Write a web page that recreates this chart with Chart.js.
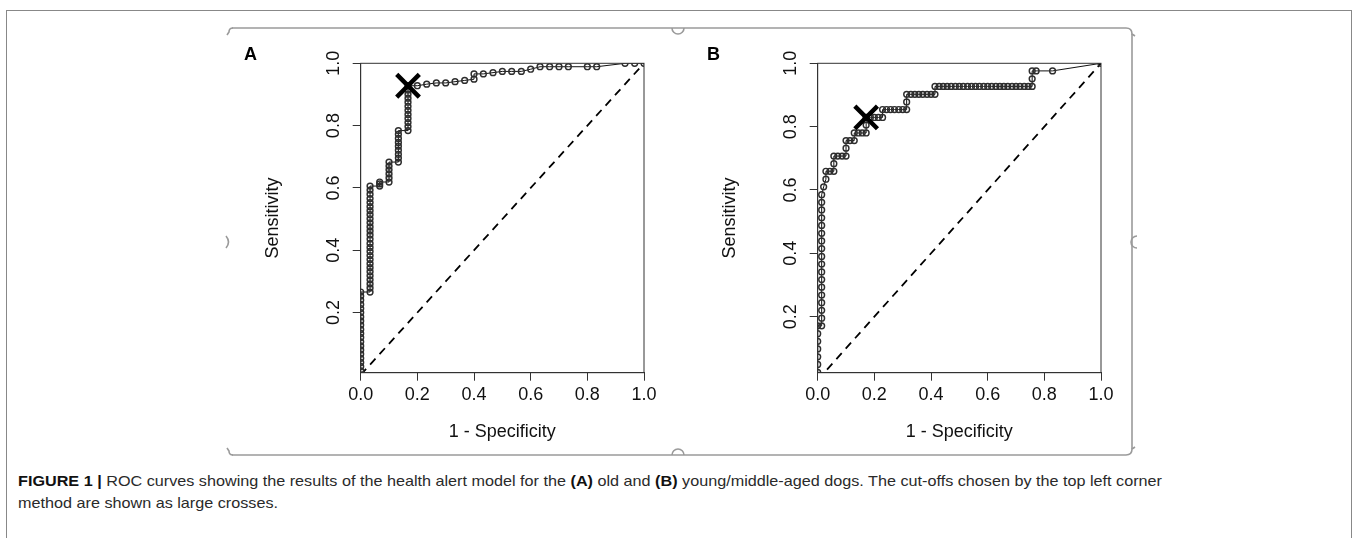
<!DOCTYPE html>
<html>
<head>
<meta charset="utf-8">
<script src="https://cdn.jsdelivr.net/npm/chart.js@4.4.0/dist/chart.umd.min.js"></script>
<style>
  body { margin: 0; width: 1358px; height: 538px; background: #fff; overflow: hidden; position: relative; font-family: "Liberation Sans", Arial, sans-serif; }
  #page { position: absolute; left: 6px; top: 10px; width: 1346px; height: 600px; border: 1px solid #888; box-sizing: border-box; }
  canvas { position: absolute; }
  .panel { position: absolute; font-weight: bold; font-size: 18px; color: #000; }
  #caption { position: absolute; left: 18px; top: 470px; font-size: 15px; line-height: 22px; color: #2a2a2a; white-space: nowrap; transform-origin: 0 0; }
  #caption b { color: #111; }
</style>
</head>
<body>
<div id="page"></div>
<svg width="1358" height="538" style="position:absolute;left:0;top:0">
  <g stroke="#9a9a9a" stroke-width="1.6" fill="none">
    <path d="M232 28 H1126" />
    <path d="M232 455 H1126" />
    <path d="M1132 34 V449" />
    <path d="M233 28 Q229 28 229 32 L227 35" />
    <path d="M233 455 Q229 455 229 451 L227 448" />
    <path d="M226 236 Q231 242 226 248" />
    <path d="M672 28 A6 6 0 0 0 684 28" />
    <path d="M672 455 A6 6 0 0 1 684 455" />
    <path d="M1126 28 Q1132 28 1132 34 L1135 36" />
    <path d="M1126 455 Q1132 455 1132 449 L1135 447" />
    <path d="M1137 236 A6 6 0 0 0 1137 248" />
  </g>
</svg>
<canvas id="chartA" width="440" height="430" style="left:230px;top:30px"></canvas>
<canvas id="chartB" width="440" height="430" style="left:686.6px;top:30px"></canvas>
<div class="panel" style="left:244px;top:44px">A</div>
<div class="panel" style="left:707px;top:44px">B</div>
<div id="caption"><span id="cap1"><b>FIGURE 1 |</b> ROC curves showing the results of the health alert model for the <b>(A)</b> old and <b>(B)</b> young/middle-aged dogs. The cut-offs chosen by the top left corner</span><br><span>method are shown as large crosses.</span></div>
<script>
// axes
const xTicks = [0, 0.2, 0.4, 0.6, 0.8, 1.0];
const yTicks = [0.2, 0.4, 0.6, 0.8, 1.0];
const diagonal = [[0, 0], [1, 1]];

// cut-offs (top left corner method)
const cutoffA = [0.167, 0.928];
const cutoffB = [0.171, 0.829];

// ROC points A (old dogs): [1 - specificity, sensitivity]
const rocA = [
  [0, 0], [0, 0.013], [0, 0.027], [0, 0.04], [0, 0.053], [0, 0.067], [0, 0.08], [0, 0.093], [0, 0.106], [0, 0.12], [0, 0.133],
  [0, 0.146], [0, 0.16], [0, 0.173], [0, 0.186], [0, 0.2], [0, 0.213], [0, 0.226], [0, 0.24], [0, 0.253], [0, 0.266],
  [0.033, 0.266], [0.033, 0.279], [0.033, 0.292], [0.033, 0.305], [0.033, 0.318], [0.033, 0.331], [0.033, 0.344], [0.033, 0.357],
  [0.033, 0.37], [0.033, 0.383], [0.033, 0.396], [0.033, 0.409], [0.033, 0.422], [0.033, 0.436], [0.033, 0.449], [0.033, 0.462],
  [0.033, 0.475], [0.033, 0.488], [0.033, 0.501], [0.033, 0.514], [0.033, 0.527], [0.033, 0.54], [0.033, 0.553], [0.033, 0.566],
  [0.033, 0.58], [0.033, 0.593], [0.033, 0.606],
  [0.067, 0.606], [0.067, 0.613], [0.067, 0.619],
  [0.1, 0.619], [0.1, 0.632], [0.1, 0.645], [0.1, 0.658], [0.1, 0.67], [0.1, 0.683],
  [0.133, 0.683], [0.133, 0.696], [0.133, 0.708], [0.133, 0.721], [0.133, 0.734], [0.133, 0.746], [0.133, 0.759], [0.133, 0.772], [0.133, 0.784],
  [0.167, 0.784], [0.167, 0.797], [0.167, 0.81], [0.167, 0.823], [0.167, 0.836], [0.167, 0.849], [0.167, 0.862], [0.167, 0.875],
  [0.167, 0.888], [0.167, 0.901], [0.167, 0.914], [0.167, 0.928],
  [0.2, 0.928], [0.233, 0.933], [0.267, 0.937], [0.3, 0.937], [0.333, 0.941], [0.367, 0.945], [0.4, 0.949], [0.4, 0.966],
  [0.433, 0.966], [0.467, 0.97], [0.5, 0.974], [0.533, 0.974], [0.567, 0.974], [0.6, 0.981], [0.633, 0.989], [0.667, 0.989],
  [0.7, 0.989], [0.733, 0.989], [0.8, 0.989], [0.833, 0.989], [0.933, 1], [0.967, 1], [1, 1]
];

// ROC points B (young/middle-aged dogs)
const rocB = [
  [0, 0], [0, 0.024], [0, 0.049], [0, 0.073], [0, 0.098], [0, 0.122], [0, 0.146], [0, 0.171],
  [0.014, 0.171], [0.014, 0.195], [0.014, 0.22], [0.014, 0.244], [0.014, 0.268], [0.014, 0.293], [0.014, 0.317], [0.014, 0.341],
  [0.014, 0.366], [0.014, 0.39], [0.014, 0.415], [0.014, 0.439], [0.014, 0.463], [0.014, 0.488], [0.014, 0.512], [0.014, 0.537],
  [0.014, 0.561], [0.014, 0.585], [0.021, 0.61], [0.029, 0.634], [0.029, 0.659], [0.043, 0.659], [0.057, 0.659], [0.057, 0.683],
  [0.057, 0.707], [0.071, 0.707], [0.086, 0.707], [0.1, 0.707], [0.1, 0.732], [0.1, 0.756], [0.114, 0.756], [0.129, 0.756],
  [0.129, 0.78], [0.143, 0.78], [0.157, 0.78], [0.171, 0.78], [0.171, 0.805], [0.171, 0.829], [0.186, 0.829], [0.2, 0.829],
  [0.214, 0.829], [0.229, 0.829], [0.229, 0.854], [0.243, 0.854], [0.257, 0.854], [0.271, 0.854], [0.286, 0.854], [0.3, 0.854],
  [0.314, 0.854], [0.314, 0.878], [0.314, 0.902], [0.329, 0.902], [0.343, 0.902], [0.357, 0.902], [0.371, 0.902], [0.386, 0.902],
  [0.4, 0.902], [0.414, 0.902], [0.414, 0.927], [0.429, 0.927], [0.443, 0.927], [0.457, 0.927], [0.471, 0.927], [0.486, 0.927],
  [0.5, 0.927], [0.514, 0.927], [0.529, 0.927], [0.543, 0.927], [0.557, 0.927], [0.571, 0.927], [0.586, 0.927], [0.6, 0.927],
  [0.614, 0.927], [0.629, 0.927], [0.643, 0.927], [0.657, 0.927], [0.671, 0.927], [0.686, 0.927], [0.7, 0.927], [0.714, 0.927],
  [0.729, 0.927], [0.743, 0.927], [0.757, 0.927], [0.757, 0.951], [0.757, 0.976], [0.771, 0.976], [0.829, 0.976], [1, 1]
];

Chart.defaults.font.family = '"Liberation Sans", Arial, sans-serif';
Chart.defaults.color = "#111";

function toXY(list) {
  return list.map((p) => ({ x: p[0], y: p[1] }));
}

// box around the plot region, like R
const boxPlugin = {
  id: "plotBox",
  afterDatasetsDraw(chart) {
    const a = chart.chartArea;
    const ctx = chart.ctx;
    ctx.save();
    ctx.strokeStyle = "#333";
    ctx.lineWidth = 1;
    ctx.strokeRect(a.left, a.top, a.right - a.left, a.bottom - a.top);
    ctx.restore();
  },
};

function makeChart(id, roc, cutoff, yMin) {
  const ctx = document.getElementById(id).getContext("2d");
  return new Chart(ctx, {
    type: "scatter",
    data: {
      datasets: [
        {
          // big cross
          data: toXY([cutoff]),
          pointStyle: "crossRot",
          pointRadius: 16,
          pointBorderWidth: 4.5,
          pointBorderColor: "#000",
          showLine: false,
        },
        {
          data: toXY(roc),
          showLine: true,
          borderColor: "#111",
          borderWidth: 1,
          pointRadius: 2.9,
          pointBorderWidth: 1.45,
          pointBorderColor: "#2e2e2e",
          pointBackgroundColor: "rgba(0,0,0,0)",
          clip: 0,
        },
        {
          data: toXY(diagonal),
          showLine: true,
          borderColor: "#000",
          borderWidth: 1.8,
          borderDash: [8, 6],
          pointRadius: 0,
          clip: 0,
        },
      ],
    },
    options: {
      responsive: false,
      animation: false,
      devicePixelRatio: 1,
      layout: { padding: { top: 33.3, right: 26, bottom: 0, left: 0 } },
      plugins: { legend: { display: false }, tooltip: { enabled: false } },
      scales: {
        x: {
          type: "linear",
          min: 0,
          max: 1,
          afterBuildTicks: (s) => { s.ticks = xTicks.map((v) => ({ value: v })); },
          afterFit: (s) => { s.height = 87.3; },
          ticks: { font: { size: 18 }, color: "#111", padding: 3.5, maxRotation: 0, autoSkip: false, callback: (v) => Number(v).toFixed(1) },
          grid: { drawOnChartArea: false, drawTicks: true, tickLength: 8, color: "#333", lineWidth: 1 },
          border: { display: true, color: "#333", width: 1 },
          title: { display: true, text: "1 - Specificity", font: { size: 18 }, color: "#111", padding: { top: 0, bottom: 17 } },
        },
        y: {
          type: "linear",
          min: yMin,
          max: 1,
          afterBuildTicks: (s) => { s.ticks = yTicks.map((v) => ({ value: v })); },
          afterFit: (s) => { s.width = 130.7; },
          ticks: { font: { size: 18 }, color: "#111", padding: 6, minRotation: 90, maxRotation: 90, crossAlign: "center", autoSkip: false, callback: (v) => Number(v).toFixed(1) },
          grid: { drawOnChartArea: false, drawTicks: true, tickLength: 8, color: "#333", lineWidth: 1 },
          border: { display: true, color: "#333", width: 1 },
          title: { display: true, text: "Sensitivity", font: { size: 18 }, color: "#111", padding: { top: 32, bottom: 0 } },
        },
      },
    },
    plugins: [boxPlugin],
  });
}

let chartA = makeChart("chartA", rocA, cutoffA, 0.007);
let chartB = makeChart("chartB", rocB, cutoffB, 0.023);

// stretch caption line so it ends where the original does
let cap1 = document.getElementById("cap1");
let capWidth = cap1.getBoundingClientRect().width;
document.getElementById("caption").style.transform = "scaleX(" + (1144 / capWidth) + ")";
</script>
</body>
</html>
